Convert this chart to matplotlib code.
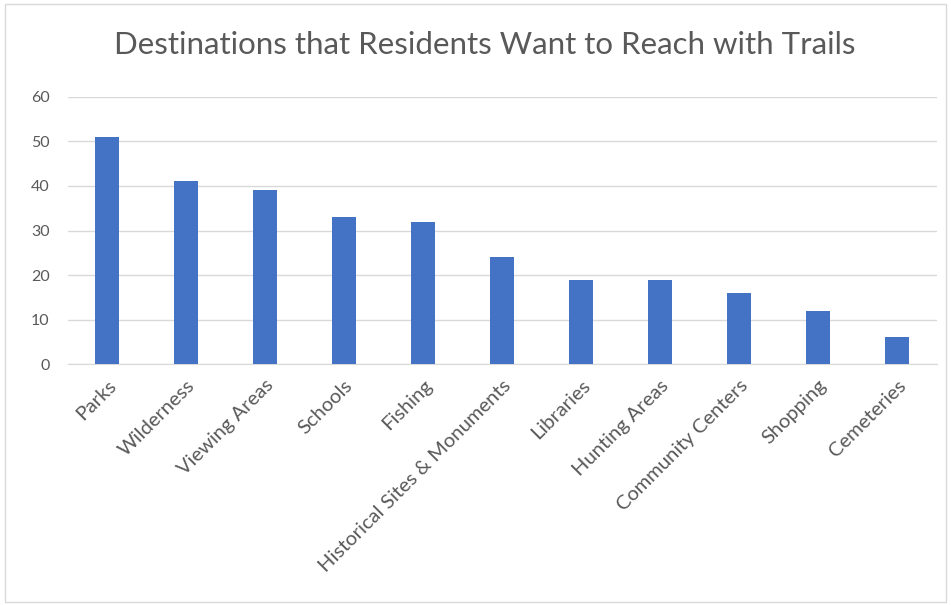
import matplotlib
matplotlib.use("Agg")
import matplotlib.pyplot as plt
from matplotlib.patches import Rectangle

categories = ["Parks", "Wilderness", "Viewing Areas", "Schools", "Fishing",
              "Historical Sites & Monuments", "Libraries", "Hunting Areas",
              "Community Centers", "Shopping", "Cemeteries"]
values = [51, 41, 39, 33, 32, 24, 19, 19, 16, 12, 6]
yticks = [0, 10, 20, 30, 40, 50, 60]

plt.rcParams['font.family'] = ['Lato', 'DejaVu Sans']

fig = plt.figure(figsize=(9.51, 6.05), dpi=100)
ax = fig.add_axes([0.071, 0.398, 0.914, 0.442])

x = list(range(len(categories)))
ax.bar(x, values, width=0.31, color="#4472C4", zorder=3)
ax.set_xlim(-0.5, len(categories) - 0.5)
ax.set_ylim(0, 60)
ax.set_yticks(yticks)
ax.set_yticklabels([str(t) for t in yticks])
ax.yaxis.grid(True, color="#d9d9d9", linewidth=1, zorder=0)
for s in ["top", "right", "left"]:
    ax.spines[s].set_visible(False)
ax.spines["bottom"].set_color("#d9d9d9")
ax.tick_params(axis="both", length=0, colors="#595959")
ax.tick_params(axis="y", pad=13, labelsize=11.5)
ax.set_xticks(x)
ax.set_xticklabels(categories, rotation=45, ha="right", rotation_mode="anchor")
ax.tick_params(axis="x", pad=9, labelsize=14.5)

fig.text(0.51, 0.925, "Destinations that Residents Want to Reach with Trails",
         ha="center", va="center", fontsize=22.5, color="#595959")

fig.patches.append(Rectangle((0.005, 0.005), 0.99, 0.988, transform=fig.transFigure,
                             fill=False, edgecolor="#d9d9d9", linewidth=1))

fig.savefig("out.png", dpi=100, facecolor="white")
